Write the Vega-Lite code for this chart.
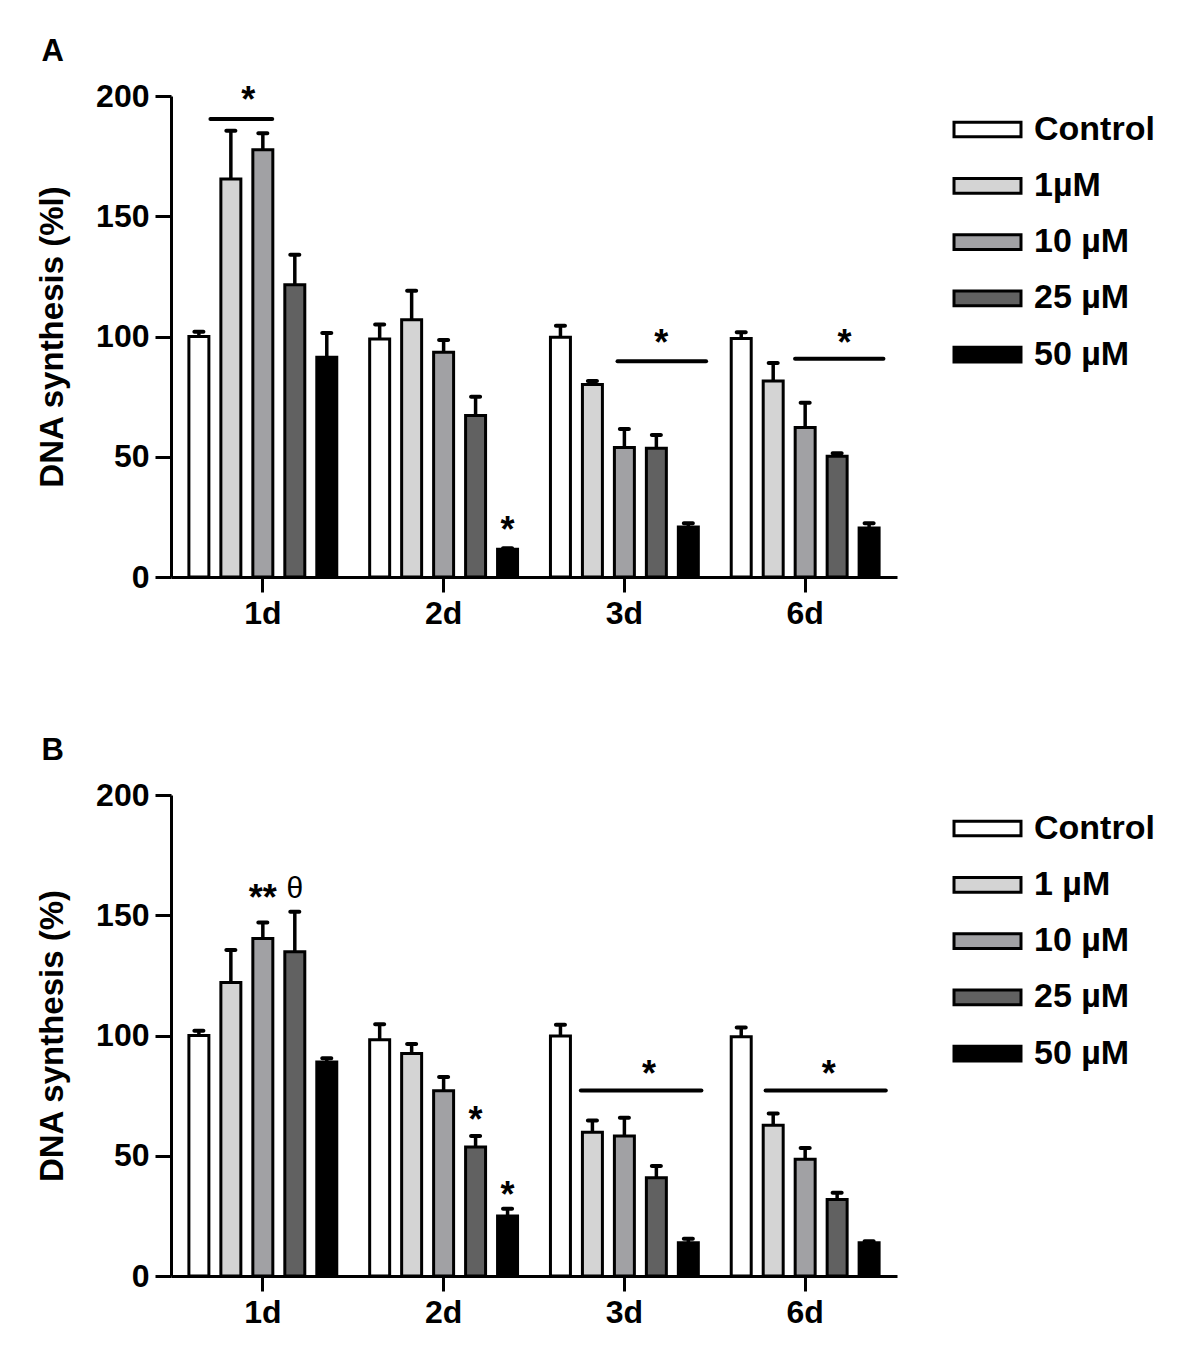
{
  "$schema": "https://vega.github.io/schema/vega-lite/v6.json",
  "background": "white",
  "padding": {"left": 36, "top": 36, "right": 5, "bottom": 5},
  "config": {
    "font": "Liberation Sans",
    "view": {"stroke": null},
    "axis": {"domainColor": "black", "domainWidth": 3, "tickColor": "black", "tickWidth": 3, "tickSize": 16, "labelFont": "Liberation Sans", "labelFontWeight": "bold", "labelFontSize": 32, "labelColor": "black", "titleFont": "Liberation Sans", "titleFontSize": 33, "titleFontWeight": "bold", "titleColor": "black", "grid": false},
    "legend": {"title": null, "orient": "none", "padding": 0, "symbolType": "M-0.957,-0.21H0.957V0.21H-0.957Z", "symbolSize": 4900, "symbolStrokeColor": "black", "symbolStrokeWidth": 3, "labelFont": "Liberation Sans", "labelFontSize": 34, "labelFontWeight": "bold", "labelColor": "black", "labelOffset": 10, "rowPadding": 2.3},
    "title": {"fontSize": 31, "fontWeight": "bold", "anchor": "start", "frame": "bounds", "color": "black", "font": "Liberation Sans", "offset": 12, "dx": 5}
  },
  "datasets": {
    "barsA": [
      {"day": "1d", "dose": "Control", "value": 100, "upper": 102},
      {"day": "1d", "dose": "1µM", "value": 165.5, "upper": 185.5},
      {"day": "1d", "dose": "10 µM", "value": 177.7, "upper": 184.5},
      {"day": "1d", "dose": "25 µM", "value": 121.5, "upper": 134},
      {"day": "1d", "dose": "50 µM", "value": 91.4, "upper": 101.5},
      {"day": "2d", "dose": "Control", "value": 99, "upper": 105},
      {"day": "2d", "dose": "1µM", "value": 107, "upper": 119},
      {"day": "2d", "dose": "10 µM", "value": 93.5, "upper": 98.5},
      {"day": "2d", "dose": "25 µM", "value": 67.2, "upper": 75},
      {"day": "2d", "dose": "50 µM", "value": 11.5, "upper": 12},
      {"day": "3d", "dose": "Control", "value": 99.7, "upper": 104.5},
      {"day": "3d", "dose": "1µM", "value": 80, "upper": 81.5},
      {"day": "3d", "dose": "10 µM", "value": 53.8, "upper": 61.5},
      {"day": "3d", "dose": "25 µM", "value": 53.5, "upper": 59},
      {"day": "3d", "dose": "50 µM", "value": 20.8, "upper": 22.3},
      {"day": "6d", "dose": "Control", "value": 99.2, "upper": 101.8},
      {"day": "6d", "dose": "1µM", "value": 81.5, "upper": 89},
      {"day": "6d", "dose": "10 µM", "value": 62.2, "upper": 72.5},
      {"day": "6d", "dose": "25 µM", "value": 50.2, "upper": 51.5},
      {"day": "6d", "dose": "50 µM", "value": 20.4, "upper": 22.3}
    ],
    "barsB": [
      {"day": "1d", "dose": "Control", "value": 100, "upper": 102},
      {"day": "1d", "dose": "1 µM", "value": 122, "upper": 135.5},
      {"day": "1d", "dose": "10 µM", "value": 140.3, "upper": 147},
      {"day": "1d", "dose": "25 µM", "value": 134.8, "upper": 151.5},
      {"day": "1d", "dose": "50 µM", "value": 89, "upper": 90.5},
      {"day": "2d", "dose": "Control", "value": 98.2, "upper": 104.7},
      {"day": "2d", "dose": "1 µM", "value": 92.5, "upper": 96.5},
      {"day": "2d", "dose": "10 µM", "value": 77, "upper": 82.7},
      {"day": "2d", "dose": "25 µM", "value": 53.6, "upper": 58.2},
      {"day": "2d", "dose": "50 µM", "value": 25, "upper": 28},
      {"day": "3d", "dose": "Control", "value": 99.8, "upper": 104.5},
      {"day": "3d", "dose": "1 µM", "value": 59.8, "upper": 64.7},
      {"day": "3d", "dose": "10 µM", "value": 58.2, "upper": 65.8},
      {"day": "3d", "dose": "25 µM", "value": 40.9, "upper": 45.7},
      {"day": "3d", "dose": "50 µM", "value": 13.8, "upper": 15.5},
      {"day": "6d", "dose": "Control", "value": 99.5, "upper": 103.3},
      {"day": "6d", "dose": "1 µM", "value": 62.7, "upper": 67.6},
      {"day": "6d", "dose": "10 µM", "value": 48.5, "upper": 53.2},
      {"day": "6d", "dose": "25 µM", "value": 31.8, "upper": 34.6},
      {"day": "6d", "dose": "50 µM", "value": 13.8, "upper": 14.5}
    ],
    "barSigA": [
      {"day": "2d", "dose": "50 µM", "label": "*", "y": 19.3}
    ],
    "barSigB": [
      {"day": "1d", "dose": "10 µM", "label": "**", "y": 156.7},
      {"day": "2d", "dose": "25 µM", "label": "*", "y": 64.3},
      {"day": "2d", "dose": "50 µM", "label": "*", "y": 33.1}
    ],
    "thetaB": [
      {"day": "1d", "dose": "25 µM", "label": "θ", "y": 160.9}
    ],
    "linesA": [
      {"start": 0.71, "end": 1.052, "y": 190.4, "star": 0.92, "starY": 197.9},
      {"start": 2.962, "end": 3.452, "y": 89.7, "star": 3.204, "starY": 96.9},
      {"start": 3.944, "end": 4.433, "y": 90.7, "star": 4.217, "starY": 97.0}
    ],
    "linesB": [
      {"start": 2.759, "end": 3.426, "y": 77.1, "star": 3.136, "starY": 83.7},
      {"start": 3.781, "end": 4.446, "y": 77.1, "star": 4.13, "starY": 83.7}
    ]
  },
  "spacing": 106,
  "resolve": {"scale": {"fill": "independent", "x": "independent", "y": "independent", "xOffset": "independent"}},
  "vconcat": [
    {
      "title": {"text": "A"},
      "width": 726,
      "height": 481,
      "resolve": {"scale": {"x": "independent"}},
      "layer": [
        {
          "layer": [
            {
              "data": {"name": "barsA"},
              "mark": {"type": "bar", "stroke": "black", "strokeWidth": 3},
              "encoding": {
                "x": {"field": "day", "type": "nominal", "scale": {"paddingInner": 0.182, "paddingOuter": 0.099}, "axis": {"title": null, "labelAngle": 0, "tickSize": 15, "labelPadding": 6, "values": ["1d", "2d", "3d", "6d"]}},
                "xOffset": {"field": "dose", "type": "nominal", "sort": ["Control", "1µM", "10 µM", "25 µM", "50 µM"], "scale": {"paddingInner": 0.375, "paddingOuter": 0}},
                "y": {"field": "value", "type": "quantitative", "scale": {"domain": [0, 200], "nice": false}, "axis": {"title": "DNA synthesis (%l)", "values": [0, 50, 100, 150, 200], "labelPadding": 6, "titlePadding": 26}},
                "fill": {"field": "dose", "type": "nominal", "scale": {"domain": ["Control", "1µM", "10 µM", "25 µM", "50 µM"], "range": ["#ffffff", "#d4d4d4", "#a1a1a4", "#616161", "#000000"]}, "legend": {"legendX": 780, "legendY": -3}}
              }
            },
            {
              "data": {"name": "barsA"},
              "mark": {"type": "rule", "strokeWidth": 3.5, "color": "black"},
              "encoding": {
                "x": {"field": "day", "type": "nominal"},
                "xOffset": {"field": "dose", "type": "nominal", "sort": ["Control", "1µM", "10 µM", "25 µM", "50 µM"]},
                "y": {"field": "value", "type": "quantitative"},
                "y2": {"field": "upper"}
              }
            },
            {
              "data": {"name": "barsA"},
              "mark": {"type": "tick", "thickness": 4, "size": 13, "color": "black", "cornerRadius": 2, "opacity": 1},
              "encoding": {
                "x": {"field": "day", "type": "nominal"},
                "xOffset": {"field": "dose", "type": "nominal", "sort": ["Control", "1µM", "10 µM", "25 µM", "50 µM"]},
                "y": {"field": "upper", "type": "quantitative"}
              }
            },
            {
              "data": {"name": "barSigA"},
              "mark": {"type": "text", "baseline": "middle", "align": "center", "color": "black", "font": "Liberation Sans", "fontSize": 36, "fontWeight": "bold"},
              "encoding": {
                "x": {"field": "day", "type": "nominal"},
                "xOffset": {"field": "dose", "type": "nominal", "sort": ["Control", "1µM", "10 µM", "25 µM", "50 µM"]},
                "y": {"field": "y", "type": "quantitative"},
                "text": {"field": "label"}
              }
            }
          ]
        },
        {
          "data": {"name": "linesA"},
          "layer": [
            {
              "mark": {"type": "rule", "strokeWidth": 4, "strokeCap": "round", "color": "black"},
              "encoding": {
                "x": {"field": "start", "type": "quantitative", "scale": {"domain": [0.492, 4.508], "nice": false, "zero": false}, "axis": null},
                "x2": {"field": "end"},
                "y": {"field": "y", "type": "quantitative"}
              }
            },
            {
              "mark": {"type": "text", "text": "*", "fontSize": 36, "fontWeight": "bold", "baseline": "middle", "align": "center", "color": "black"},
              "encoding": {
                "x": {"field": "star", "type": "quantitative", "axis": null},
                "y": {"field": "starY", "type": "quantitative"}
              }
            }
          ]
        }
      ]
    },
    {
      "title": {"text": "B"},
      "width": 726,
      "height": 481,
      "resolve": {"scale": {"x": "independent"}},
      "layer": [
        {
          "layer": [
            {
              "data": {"name": "barsB"},
              "mark": {"type": "bar", "stroke": "black", "strokeWidth": 3},
              "encoding": {
                "x": {"field": "day", "type": "nominal", "scale": {"paddingInner": 0.182, "paddingOuter": 0.099}, "axis": {"title": null, "labelAngle": 0, "tickSize": 15, "labelPadding": 6, "values": ["1d", "2d", "3d", "6d"]}},
                "xOffset": {"field": "dose", "type": "nominal", "sort": ["Control", "1 µM", "10 µM", "25 µM", "50 µM"], "scale": {"paddingInner": 0.375, "paddingOuter": 0}},
                "y": {"field": "value", "type": "quantitative", "scale": {"domain": [0, 200], "nice": false}, "axis": {"title": "DNA synthesis (%)", "values": [0, 50, 100, 150, 200], "labelPadding": 6, "titlePadding": 26}},
                "fill": {"field": "dose", "type": "nominal", "scale": {"domain": ["Control", "1 µM", "10 µM", "25 µM", "50 µM"], "range": ["#ffffff", "#d4d4d4", "#a1a1a4", "#616161", "#000000"]}, "legend": {"legendX": 780, "legendY": -3}}
              }
            },
            {
              "data": {"name": "barsB"},
              "mark": {"type": "rule", "strokeWidth": 3.5, "color": "black"},
              "encoding": {
                "x": {"field": "day", "type": "nominal"},
                "xOffset": {"field": "dose", "type": "nominal", "sort": ["Control", "1 µM", "10 µM", "25 µM", "50 µM"]},
                "y": {"field": "value", "type": "quantitative"},
                "y2": {"field": "upper"}
              }
            },
            {
              "data": {"name": "barsB"},
              "mark": {"type": "tick", "thickness": 4, "size": 13, "color": "black", "cornerRadius": 2, "opacity": 1},
              "encoding": {
                "x": {"field": "day", "type": "nominal"},
                "xOffset": {"field": "dose", "type": "nominal", "sort": ["Control", "1 µM", "10 µM", "25 µM", "50 µM"]},
                "y": {"field": "upper", "type": "quantitative"}
              }
            },
            {
              "data": {"name": "barSigB"},
              "mark": {"type": "text", "baseline": "middle", "align": "center", "color": "black", "font": "Liberation Sans", "fontSize": 36, "fontWeight": "bold"},
              "encoding": {
                "x": {"field": "day", "type": "nominal"},
                "xOffset": {"field": "dose", "type": "nominal", "sort": ["Control", "1 µM", "10 µM", "25 µM", "50 µM"]},
                "y": {"field": "y", "type": "quantitative"},
                "text": {"field": "label"}
              }
            },
            {
              "data": {"name": "thetaB"},
              "mark": {"type": "text", "baseline": "middle", "align": "center", "color": "black", "font": "Liberation Sans", "fontSize": 30, "fontWeight": "normal"},
              "encoding": {
                "x": {"field": "day", "type": "nominal"},
                "xOffset": {"field": "dose", "type": "nominal", "sort": ["Control", "1 µM", "10 µM", "25 µM", "50 µM"]},
                "y": {"field": "y", "type": "quantitative"},
                "text": {"field": "label"}
              }
            }
          ]
        },
        {
          "data": {"name": "linesB"},
          "layer": [
            {
              "mark": {"type": "rule", "strokeWidth": 4, "strokeCap": "round", "color": "black"},
              "encoding": {
                "x": {"field": "start", "type": "quantitative", "scale": {"domain": [0.492, 4.508], "nice": false, "zero": false}, "axis": null},
                "x2": {"field": "end"},
                "y": {"field": "y", "type": "quantitative"}
              }
            },
            {
              "mark": {"type": "text", "text": "*", "fontSize": 36, "fontWeight": "bold", "baseline": "middle", "align": "center", "color": "black"},
              "encoding": {
                "x": {"field": "star", "type": "quantitative", "axis": null},
                "y": {"field": "starY", "type": "quantitative"}
              }
            }
          ]
        }
      ]
    }
  ]
}
